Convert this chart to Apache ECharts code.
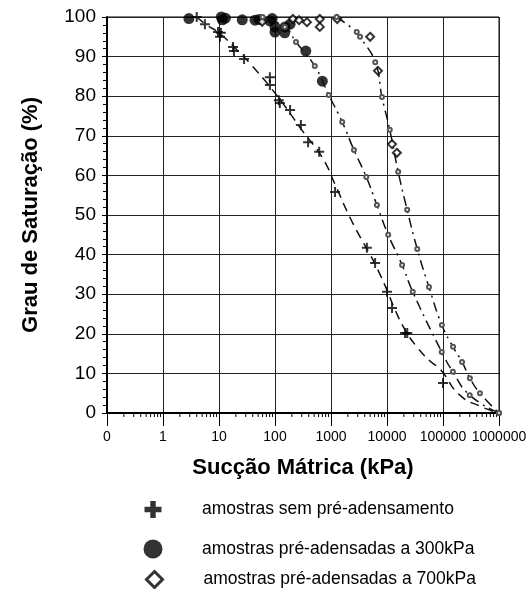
<!DOCTYPE html>
<html><head><meta charset="utf-8">
<script src="https://cdn.jsdelivr.net/npm/echarts@6/dist/echarts.min.js"></script>
<style>html,body{margin:0;padding:0;background:#fff}#c{width:530px;height:589px}</style>
</head><body><div id="c"></div>
<script>
// ---- data ----
const seriesNames = ['amostras sem pré-adensamento','amostras pré-adensadas a 300kPa','amostras pré-adensadas a 700kPa'];
const xTickLabels = ['0','1','10','100','1000','10000','100000','1000000'];
const yTickLabels = ['0','10','20','30','40','50','60','70','80','90','100'];
const semPre = [[4,100],[5.6,98.2],[9.6,96.2],[10.4,95],[10.8,96],[17.8,92.4],[18.5,91.4],[28,89.4],[81,84.8],[81,82.8],[117,79],[122,78.3],[186,76.5],[290,72.7],[390,68.4],[615,66],[1180,55.8],[4370,41.7],[6130,37.9],[10000,30.6],[12300,26.5],[21000,20.2],[23000,20.2],[100000,7.6]];
const pre300 = [[2.9,99.6],[11,100],[11.5,99.3],[13,99.7],[26,99.3],[44,99.2],[52,99.4],[81,99],[89,99.6],[100,97.5],[100,96.2],[151,97.5],[149,96],[186,98.2],[355,91.4],[700,83.8]];
const pre700 = [[59,98.8],[209,99.5],[269,99.2],[372,98.7],[631,99.5],[631,97.5],[1290,99.5],[5000,95],[6900,86.4],[12300,67.9],[15000,65.7]];
const curveSemPre = [[4,100],[6,98],[10,96],[20,92],[40,87.5],[80,82.5],[150,77.5],[300,71.5],[700,64.5],[1200,57.5],[2000,50.5],[3300,44.5],[5000,40],[7500,35],[10000,31],[14000,26],[21000,21],[35000,16.5],[60000,13],[90000,11],[200000,4.5],[500000,1.5],[1000000,0]];
const curvePre300 = [[60,100],[150,97.5],[237,93.7],[513,87.6],[912,80.3],[1585,73.5],[2570,66.4],[4270,59.6],[6600,52.5],[10500,45],[18600,37.4],[28800,30.6],[95000,15.4],[150000,10.4],[300000,4.5],[1000000,0]];
const curvePre700 = [[1260,100],[2880,96.2],[3300,95],[6170,88.6],[8130,79.8],[11200,71.5],[15850,60.9],[22900,51.3],[34700,41.4],[56200,31.8],[95500,22.2],[151000,16.7],[219000,12.9],[302000,8.8],[457000,5],[1000000,0]];

// minor tick positions for the log axis (2..9 per decade)
const minorTickVals = [];
for (let e = -1; e < 6; e++) for (let k = 2; k <= 9; k++) minorTickVals.push([k * Math.pow(10, e), 0]);

const plusPath = 'path://M4,0h2v4h4v2h-4v4h-2v-4h-4v-2h4z';
const plusBold = 'path://M3.4,0h3.2v3.4h3.4v3.2h-3.4v3.4h-3.2v-3.4h-3.4v-3.2h3.4z';
const FONT = 'Liberation Sans, Arial, sans-serif';
const chart = echarts.init(document.getElementById('c'));
const legendBase = (name, icon, top, size, extra) => ({
  orient: 'vertical', padding: 0, left: 143 + (20 - size) / 2, top: top + (20 - size) / 2, itemWidth: size, itemHeight: size,
  data: [Object.assign({name: name, icon: icon}, extra || {})], selectedMode: false,
  textStyle: {fontFamily: FONT, fontSize: 17.5, color: '#000', padding: [0, 0, 0, 34 + (20 - size) / 2]}
});
chart.setOption({
  animation: false,
  grid: {left: 107, right: 31, top: 17, bottom: 176, show: true, borderColor: '#000', borderWidth: 1},
  legend: [
    legendBase(seriesNames[0], plusBold, 499, 17),
    legendBase(seriesNames[1], 'circle', 539, 19),
    legendBase(seriesNames[2], 'diamond', 568, 16, {itemStyle: {color: '#fff', borderColor: '#000', borderWidth: 3}})
  ],
  xAxis: {
    type: 'log', logBase: 10, min: 0.1, max: 1000000,
    name: 'Sucção Mátrica (kPa)', nameLocation: 'middle', nameGap: 44,
    nameTextStyle: {fontFamily: FONT, fontSize: 22, fontWeight: 'bold', color: '#000'},
    axisLine: {lineStyle: {color: '#000', width: 2}},
    axisTick: {show: true, length: 13, lineStyle: {color: '#000', width: 1}},
    axisLabel: {margin: 17, fontFamily: FONT, fontSize: 14, color: '#000',
      formatter: v => xTickLabels[Math.round(Math.log10(v)) + 1]},
    splitLine: {show: true, lineStyle: {color: '#222', width: 1}}
  },
  yAxis: {
    type: 'value', min: 0, max: 100, interval: 10,
    name: 'Grau de Saturação (%)', nameLocation: 'middle', nameGap: 65,
    nameTextStyle: {fontFamily: FONT, fontSize: 22, fontWeight: 'bold', color: '#000'},
    axisLine: {show: true, lineStyle: {color: '#000', width: 2}},
    axisTick: {show: true, length: 5, lineStyle: {color: '#000'}},
    minorTick: {show: true, splitNumber: 5, length: 4, lineStyle: {color: '#000'}},
    axisLabel: {margin: 11, fontFamily: FONT, fontSize: 19, color: '#000',
      formatter: v => yTickLabels[Math.round(v / 10)]},
    splitLine: {show: true, lineStyle: {color: '#222', width: 1}}
  },
  series: [
    {type: 'custom', silent: true, clip: false, data: minorTickVals,
      renderItem: (params, api) => {
        const p = api.coord([api.value(0), api.value(1)]);
        return {type: 'line', shape: {x1: p[0], y1: p[1], x2: p[0], y2: p[1] + 4}, style: {stroke: '#000', lineWidth: 1}};
      }},
    {type: 'line', data: curveSemPre, smooth: true, showSymbol: false, silent: true,
      lineStyle: {color: '#111', width: 1.5, type: [9, 6]}},
    {type: 'line', data: curvePre300, smooth: true, symbol: 'emptyCircle', symbolSize: 4, showSymbol: true, silent: true,
      itemStyle: {color: '#555', borderWidth: 1}, lineStyle: {color: '#111', width: 1.5, type: [10, 5, 2, 5]}},
    {type: 'line', data: curvePre700, smooth: true, symbol: 'emptyCircle', symbolSize: 4, showSymbol: true, silent: true,
      itemStyle: {color: '#555', borderWidth: 1}, lineStyle: {color: '#111', width: 1.5, type: [10, 5, 2, 5]}},
    {name: seriesNames[0], type: 'scatter', data: semPre, symbol: plusPath, symbolSize: 10,
      itemStyle: {color: '#000'}},
    {name: seriesNames[1], type: 'scatter', data: pre300, symbol: 'circle', symbolSize: 11,
      itemStyle: {color: '#000'}},
    {name: seriesNames[2], type: 'scatter', data: pre700, symbol: 'diamond', symbolSize: 8,
      itemStyle: {color: '#fff', borderColor: '#000', borderWidth: 2}}
  ]
});
</script></body></html>
